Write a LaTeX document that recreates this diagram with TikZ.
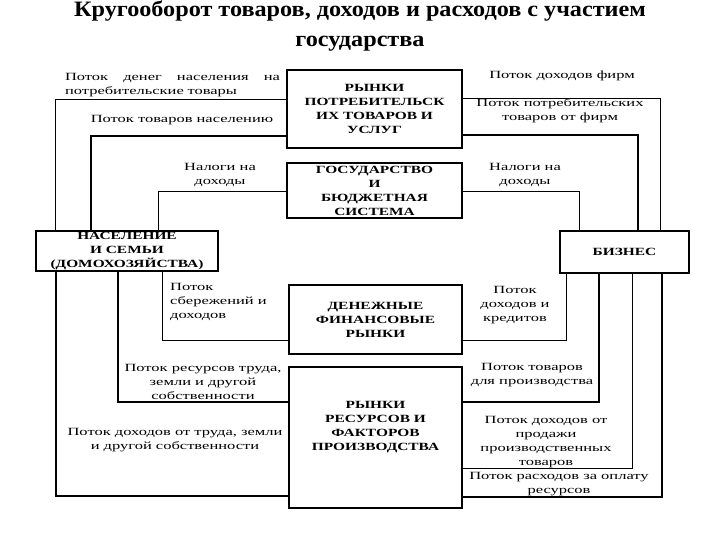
\documentclass[tikz,border=0pt]{standalone}
\usepackage{fontspec}
\setmainfont{Liberation Serif}
\newfontfamily\labfont[FakeStretch=1.5]{Liberation Serif}
\newfontfamily\boxfont[FakeStretch=1.4]{Liberation Serif}
\newfontfamily\titlefont[FakeStretch=1.1]{Liberation Serif}
\begin{document}
\begin{tikzpicture}[x=1pt,y=-1pt,
  box/.style={draw, line width=1.6pt, inner sep=0pt, align=center,
    font=\boxfont\bfseries\fontsize{11}{14}\selectfont},
  boxtext/.style={inner sep=0pt, align=center,
    font=\boxfont\bfseries\fontsize{11}{14}\selectfont},
  lab/.style={inner sep=0pt, align=center, font=\labfont\fontsize{11}{14}\selectfont},
  ttl/.style={inner sep=0pt, anchor=base, font=\titlefont\bfseries\fontsize{22}{30}\selectfont},
  thinflow/.style={line width=0.9pt},
  thickflow/.style={line width=1.6pt}]
\useasboundingbox (0,0) rectangle (720,540);
\fill[white] (0,0) rectangle (720,540);

% title
\node[ttl] (t1) at (360,17) {Кругооборот товаров, доходов и расходов с участием};
\node[ttl] (t2) at (360,47) {государства};

% boxes
\node[box, minimum width=175pt, minimum height=78pt] (rpt) at (374.5,109)
  {РЫНКИ\\ПОТРЕБИТЕЛЬСК\\ИХ ТОВАРОВ И\\УСЛУГ};
\node[box, minimum width=175pt, minimum height=55pt] (gov) at (374.5,190.5)
  {ГОСУДАРСТВО\\И\\БЮДЖЕТНАЯ\\СИСТЕМА};
\node[box, minimum width=182pt, minimum height=40pt] (pop) at (127,251)
  {НАСЕЛЕНИЕ\\И СЕМЬИ\\(ДОМОХОЗЯЙСТВА)};
\node[box, minimum width=129pt, minimum height=42pt] (biz) at (624.5,252)
  {БИЗНЕС};
\node[box, minimum width=173pt, minimum height=69pt] (fin) at (375.5,319.5)
  {ДЕНЕЖНЫЕ\\ФИНАНСОВЫЕ\\РЫНКИ};
\node[box, minimum width=173pt, minimum height=141pt] (res) at (375.5,437.5) {};
\node[boxtext] (resT) at (375.5,427)
  {РЫНКИ\\РЕСУРСОВ И\\ФАКТОРОВ\\ПРОИЗВОДСТВА};

% connectors, upper left
\draw[thinflow]  (55,0 |- pop.north)  |- (rpt.west |- 0,99);
\draw[thickflow] (91,0 |- pop.north)  |- (rpt.west |- 0,136);
\draw[thinflow]  (158,0 |- pop.north) |- (gov.west |- 0,191);
% upper right
\draw[thinflow]  (rpt.east |- 0,98)  -| (660,0 |- biz.north);
\draw[thickflow] (rpt.east |- 0,135) -| (638,0 |- biz.north);
\draw[thinflow]  (gov.east |- 0,191) -| (579,0 |- biz.north);
% lower left
\draw[thinflow]  (162,0 |- pop.south) |- (fin.west |- 0,340);
\draw[thickflow] (118,0 |- pop.south) |- (res.west |- 0,402);
\draw[thickflow] (56,0 |- pop.south)  |- (res.west |- 0,496);
% lower right
\draw[thinflow]  (566,0 |- biz.south) |- (fin.east |- 0,340);
\draw[thickflow] (599,0 |- biz.south) |- (res.east |- 0,402);
\draw[thinflow]  (632,0 |- biz.south) |- (res.east |- 0,468);
\draw[thickflow] (662,0 |- biz.south) |- (res.east |- 0,497);

% labels
\node[lab, align=left, text width=215pt] (l1) at (172.5,85)
  {Поток\hfill денег\hfill населения\hfill на\\потребительские товары};
\node[lab] (l2) at (182,120) {Поток товаров населению};
\node[lab] (l3) at (220,175) {Налоги на\\доходы};
\node[lab] (l4) at (562,76) {Поток доходов фирм};
\node[lab] (l5) at (560,111) {Поток потребительских\\товаров от фирм};
\node[lab] (l6) at (525,175) {Налоги на\\доходы};
\node[lab, align=left, anchor=west] (l7) at (170,302) {Поток\\сбережений и\\доходов};
\node[lab] (l8) at (515,305) {Поток\\доходов и\\кредитов};
\node[lab] (l9) at (203,382) {Поток ресурсов труда,\\земли и другой\\собственности};
\node[lab] (l10) at (532,375) {Поток товаров\\для производства};
\node[lab] (l11) at (175,440) {Поток доходов от труда, земли\\и другой собственности};
\node[lab] (l12) at (546,442) {Поток доходов от\\продажи\\производственных\\товаров};
\node[lab] (l13) at (559,484) {Поток расходов за оплату\\ресурсов};
\end{tikzpicture}
\end{document}
